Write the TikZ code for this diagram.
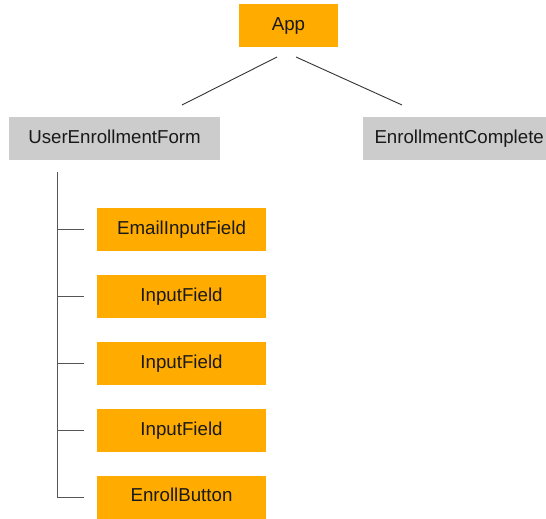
\documentclass[tikz,border=0pt]{standalone}
\usepackage{fontspec}
\setmainfont{Liberation Sans}
\usetikzlibrary{calc}
\definecolor{boxorange}{HTML}{FFAB00}
\definecolor{boxgray}{HTML}{CCCCCC}
\definecolor{linegray}{HTML}{555555}
\tikzset{
  comp/.style={fill=boxorange,inner sep=0pt,text=black!90,
    font=\fontsize{18.7}{22}\selectfont,text height=13.5pt,text depth=4pt},
  page/.style={comp,fill=boxgray},
  link/.style={draw=black!80,line width=0.9pt},
  branch/.style={draw=linegray,line width=1pt}
}

\begin{document}
\begin{tikzpicture}[x=1pt,y=-1pt]
      \useasboundingbox (0,0) rectangle (546,519);
      \node[comp,minimum width=99pt,minimum height=43pt] (App) at (288.5, 25.5) {App};
      \node[page,minimum width=211pt,minimum height=43pt] (Form) at (114.5, 138.5) {UserEnrollmentForm};
      \node[page,minimum width=190pt,minimum height=43pt,text width=183pt,align=left] (Done) at (458, 138.5) {\hspace*{8pt}EnrollmentComplete};
      \coordinate (appL) at (277, 57);
      \coordinate (appR) at (296, 57);
      \coordinate (formTop) at (182, 105);
      \coordinate (doneTop) at (402, 105);
      \draw[link] (appL) -- (formTop);
      \draw[link] (appR) -- (doneTop);
      \node[comp,minimum width=169pt,minimum height=43pt] (Email) at (181.5, 229.5) {EmailInputField};
      \node[comp,minimum width=169pt,minimum height=43pt] (InputA) at (181.5, 296.5) {InputField};
      \node[comp,minimum width=169pt,minimum height=43pt] (InputB) at (181.5, 363.5) {InputField};
      \node[comp,minimum width=169pt,minimum height=43pt] (InputC) at (181.5, 430.5) {InputField};
      \node[comp,minimum width=169pt,minimum height=43pt] (Enroll) at (181.5, 497) {EnrollButton};
      \coordinate (trunk) at (57, 172);
      \draw[branch] (trunk) |- ([xshift=-13pt]Email.west);
      \draw[branch] (trunk) |- ([xshift=-13pt]InputA.west);
      \draw[branch] (trunk) |- ([xshift=-13pt]InputB.west);
      \draw[branch] (trunk) |- ([xshift=-13pt]InputC.west);
      \draw[branch] (trunk) |- ([xshift=-13pt]Enroll.west);
    \end{tikzpicture}
\end{document}
